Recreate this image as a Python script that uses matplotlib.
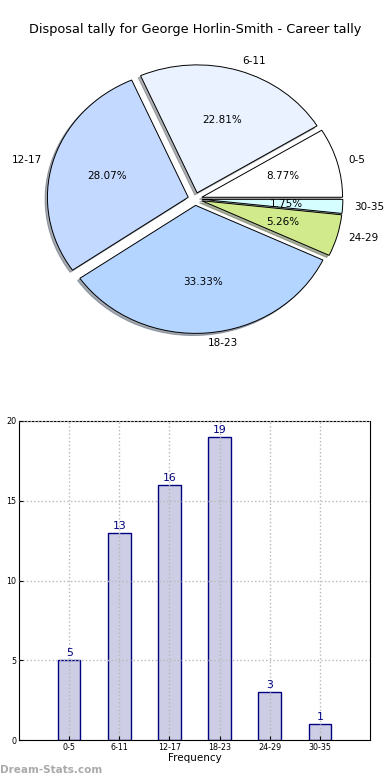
import numpy as np
import matplotlib
matplotlib.use('Agg')
import matplotlib.pyplot as plt

# career disposal tally, grouped by disposals per game
intervals = ['0-5', '6-11', '12-17', '18-23', '24-29', '30-35']
games = [5, 13, 16, 19, 3, 1]
pie_colors = ['#ffffff', '#eaf2ff', '#c4d9ff', '#b4d5ff', '#d0ea8c', '#d4feff']

fig = plt.figure(figsize=(3.9, 7.8), dpi=100)

# --- pie on top ---
ax1 = fig.add_axes([19 / 390, (780 - 199 - 160) / 780, 352 / 390, 320 / 780])
wedges, texts, autotexts = ax1.pie(
    games, labels=intervals, colors=pie_colors, autopct='%.2f%%',
    explode=[0.05] * len(games), shadow=dict(ox=-0.012, oy=-0.012, shade=0.6),
    startangle=0, labeldistance=1.08,
    wedgeprops=dict(edgecolor='black', linewidth=0.7),
    textprops=dict(fontsize=7.5))
ax1.set_aspect('auto')
ax1.set_xlim(-1.25, 1.25)
ax1.set_ylim(-1.25, 1.25)
fig.text(0.5, 1 - 30 / 780, 'Disposal tally for George Horlin-Smith - Career tally',
         ha='center', va='center', fontsize=9.3)

# --- bars below ---
ax2 = fig.add_axes([19 / 390, 40 / 780, 351 / 390, 319 / 780])
x = np.arange(len(intervals))
bars = ax2.bar(x, games, width=0.45, color='#cdcde5', edgecolor='navy', linewidth=1)
for xi, g in zip(x, games):
    ax2.text(xi, g + 0.12, str(g), ha='center', va='bottom', color='navy', fontsize=7.8)

ax2.set_xlim(-1, 6)
ax2.set_ylim(0, 20)
ax2.set_xticks(x)
ax2.set_xticklabels(intervals)
ax2.set_yticks([0, 5, 10, 15, 20])
ax2.tick_params(direction='in', labelsize=5.8, length=3, pad=2)
ax2.grid(True, linestyle=':', color='#b8b8b8', linewidth=1)
ax2.set_axisbelow(False)
ax2.set_xlabel('Frequency', fontsize=7.5, labelpad=1)
ax2.set_ylabel('Stat Intervals', fontsize=7.5, labelpad=3)

fig.text(0.0, 1 - 770 / 780, 'Dream-Stats.com', ha='left', va='center',
         fontsize=7.5, fontweight='bold', color='#aaaaaa')

fig.savefig('out.png', dpi=100)
